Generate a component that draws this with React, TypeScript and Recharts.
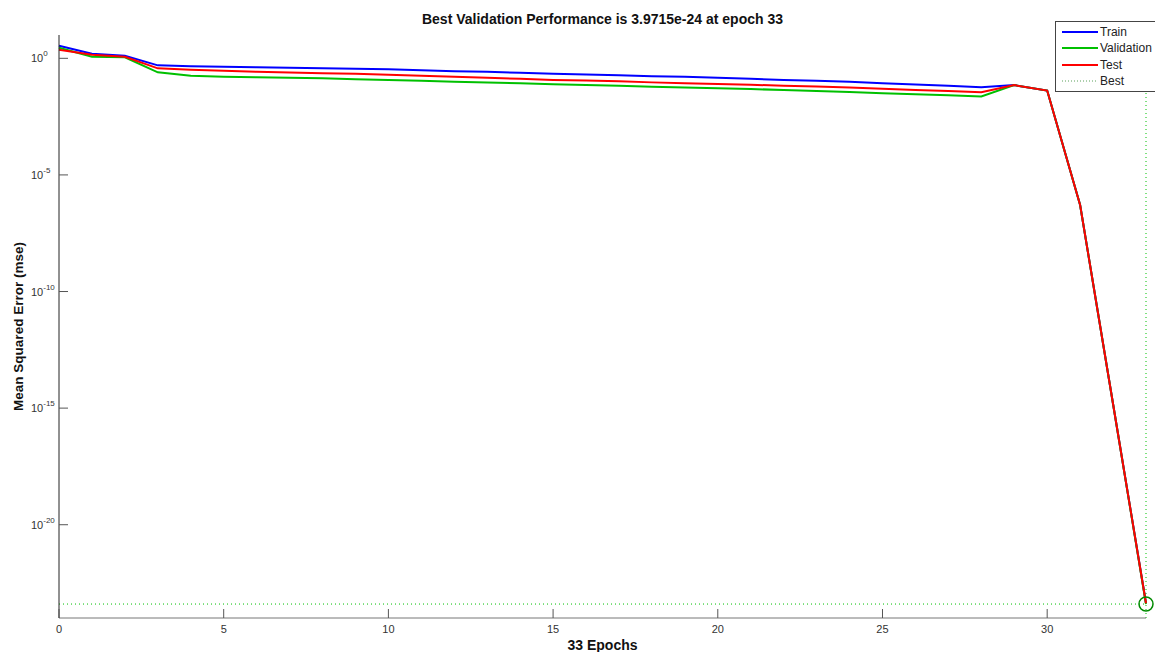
import { Line, LineChart, ReferenceDot, ReferenceLine, XAxis, YAxis } from 'recharts';

const epochs = [
  0, 1, 2, 3, 4, 5, 6, 7, 8, 9, 10, 11, 12, 13, 14, 15, 16,
  17, 18, 19, 20, 21, 22, 23, 24, 25, 26, 27, 28, 29, 30, 31, 32, 33,
];

const trainPerf = [
  3.44, 1.56, 1.28, 0.5, 0.454, 0.432, 0.411, 0.391, 0.372, 0.354, 0.337,
  0.305, 0.282, 0.263, 0.239, 0.216, 0.202, 0.186, 0.172, 0.161, 0.146,
  0.132, 0.119, 0.108, 0.098, 0.086, 0.076, 0.066, 0.058, 0.071, 0.0415,
  5.1e-7, 1.5e-15, 4.3e-24,
];

const valPerf = [
  2.82, 1.16, 1.1, 0.251, 0.177, 0.161, 0.153, 0.146, 0.139, 0.128, 0.119,
  0.108, 0.098, 0.091, 0.085, 0.077, 0.071, 0.066, 0.06, 0.056, 0.052,
  0.048, 0.044, 0.04, 0.036, 0.032, 0.029, 0.026, 0.023, 0.071, 0.0415,
  5.1e-7, 1.5e-15, 3.9715e-24,
];

const testPerf = [
  2.32, 1.41, 1.16, 0.372, 0.321, 0.291, 0.263, 0.246, 0.229, 0.216, 0.196,
  0.177, 0.161, 0.146, 0.132, 0.119, 0.111, 0.103, 0.093, 0.086, 0.079,
  0.073, 0.067, 0.062, 0.056, 0.049, 0.044, 0.04, 0.035, 0.071, 0.0415,
  5.1e-7, 1.5e-15, 4.3e-24,
];

const bestEpoch = 33;
const bestPerf = 3.9715e-24;

const xTicks = [0, 5, 10, 15, 20, 25, 30];
const yTicks = [1e-20, 1e-15, 1e-10, 1e-5, 1];

const legendItems = [
  { name: 'Train', color: '#0000ff', dash: undefined },
  { name: 'Validation', color: '#00c000', dash: undefined },
  { name: 'Test', color: '#ff0000', dash: undefined },
  { name: 'Best', color: '#5aa05a', dash: '1 2' },
];

const FONT = '"Liberation Sans", Arial, sans-serif';

const data = epochs.map((epoch, i) => ({
  epoch,
  train: trainPerf[i],
  validation: valPerf[i],
  test: testPerf[i],
}));

function LogTick({ x, y, payload }: any) {
  const exp = Math.round(Math.log10(payload.value));
  return (
    <g>
      <line x1={x} x2={x + 9} y1={y} y2={y} stroke="#555" />
      <text x={x - 28} y={y + 4} fontSize={11} fill="#333" fontFamily={FONT}>
        10
        <tspan dy={-6} fontSize={8}>
          {exp}
        </tspan>
      </text>
    </g>
  );
}

function EpochTick({ x, y, payload }: any) {
  return (
    <g>
      <line x1={x} x2={x} y1={y} y2={y - 9} stroke="#555" />
      <text x={x} y={y + 15} textAnchor="middle" fontSize={11} fill="#333" fontFamily={FONT}>
        {payload.value}
      </text>
    </g>
  );
}

function PerfLegend() {
  return (
    <div
      style={{
        position: 'absolute',
        left: 1055,
        top: 21,
        background: '#fff',
        border: '1px solid #444',
        borderRight: 'none',
        width: 100,
        padding: '2px 0 2px 6px',
        fontFamily: FONT,
        fontSize: 12,
        color: '#222',
        boxSizing: 'border-box',
      }}
    >
      {legendItems.map((item) => (
        <div key={item.name} style={{ display: 'flex', alignItems: 'center', height: 16.3 }}>
          <svg width={36} height={6} style={{ marginRight: 2 }}>
            <line
              x1={0}
              x2={36}
              y1={3}
              y2={3}
              stroke={item.color}
              strokeWidth={item.dash ? 1 : 2}
              strokeDasharray={item.dash}
            />
          </svg>
          <span>{item.name}</span>
        </div>
      ))}
    </div>
  );
}

export default function App() {
  return (
    <div
      style={{
        position: 'absolute',
        left: 0,
        top: 0,
        width: 1155,
        height: 652,
        overflow: 'hidden',
        background: '#fff',
      }}
    >
      <div
        style={{
          position: 'absolute',
          left: 59,
          top: 11,
          width: 1087,
          textAlign: 'center',
          fontFamily: FONT,
          fontWeight: 'bold',
          fontSize: 14,
          color: '#111',
        }}
      >
        Best Validation Performance is 3.9715e-24 at epoch 33
      </div>
      <LineChart
        width={1155}
        height={652}
        data={data}
        margin={{ top: 35, right: 9, bottom: 14, left: 9 }}
      >
        <XAxis
          dataKey="epoch"
          type="number"
          domain={[0, 33]}
          ticks={xTicks}
          height={20}
          tickSize={0}
          tickMargin={0}
          tickLine={false}
          tick={<EpochTick />}
          axisLine={{ stroke: '#777' }}
          label={{
            value: '33 Epochs',
            position: 'bottom',
            offset: 2,
            style: { fontFamily: FONT, fontWeight: 'bold', fontSize: 14, fill: '#111' },
          }}
        />
        <YAxis
          scale="log"
          type="number"
          domain={[1e-24, 10]}
          ticks={yTicks}
          width={50}
          tickSize={0}
          tickMargin={0}
          tickLine={false}
          tick={<LogTick />}
          axisLine={{ stroke: '#222' }}
          label={{
            value: 'Mean Squared Error  (mse)',
            angle: -90,
            position: 'insideLeft',
            offset: 9,
            style: {
              fontFamily: FONT,
              fontWeight: 'bold',
              fontSize: 13.5,
              fill: '#111',
              textAnchor: 'middle',
              whiteSpace: 'pre',
            },
          }}
        />
        <ReferenceLine
          x={bestEpoch}
          stroke="#00c000"
          strokeDasharray="1 3"
          strokeWidth={1}
        />
        <ReferenceLine
          y={bestPerf}
          stroke="#00c000"
          strokeDasharray="1 3"
          strokeWidth={1}
        />
        <Line
          type="linear"
          dataKey="train"
          stroke="#0000ff"
          strokeWidth={2}
          dot={false}
          isAnimationActive={false}
        />
        <Line
          type="linear"
          dataKey="validation"
          stroke="#00c000"
          strokeWidth={2}
          dot={false}
          isAnimationActive={false}
        />
        <Line
          type="linear"
          dataKey="test"
          stroke="#ff0000"
          strokeWidth={2}
          dot={false}
          isAnimationActive={false}
        />
        <ReferenceDot
          x={bestEpoch}
          y={bestPerf}
          r={7}
          fill="none"
          stroke="#008a00"
          strokeWidth={1.5}
        />
      </LineChart>
      <PerfLegend />
    </div>
  );
}
